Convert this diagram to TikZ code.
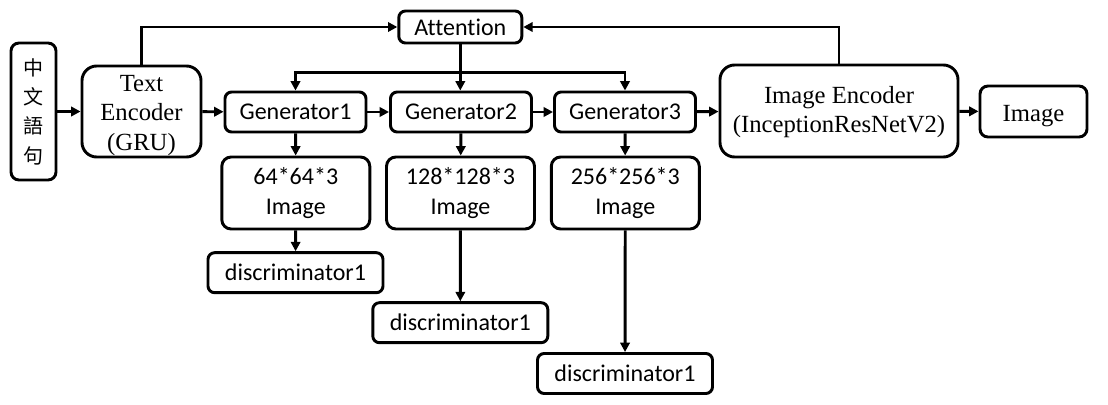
\documentclass[tikz,border=0pt]{standalone}
\usepackage{fontspec}
\setmainfont{Liberation Serif}
\newfontfamily\calibri[Ligatures=NoCommon]{Carlito}
\newfontfamily\cjk{Noto Sans CJK TC}
\usetikzlibrary{arrows.meta,positioning,calc}

% text lowered inside its box, box size kept
\newcommand{\lowered}[2]{\raisebox{-#1}[\height][\depth]{\begin{tabular}{@{}c@{}}#2\end{tabular}}}

\tikzset{
	block/.style={draw,line width=2.2pt,rounded corners=5pt,inner sep=0pt,align=center,
		font=\calibri\fontsize{18}{22.5}\selectfont},
	serifblock/.style={block,rounded corners=11pt,font=\fontsize{18.5}{22}\selectfont},
	link/.style={line width=2.2pt,-{Triangle[length=7pt,width=7pt]}},
}

\begin{document}
\begin{tikzpicture}[x=0.75pt,y=-0.75pt]
	
	\useasboundingbox (0,0) rectangle (1108,404);
	
	%%%%%%%%%%%%%%%%%%%%%%%%%%%%%%%%%%%%%%%%%%%%%%%%%%%%%%
	
	\node [block,rounded corners=6pt,minimum width=33.75pt,minimum height=102.75pt,
		font=\cjk\fontsize{15}{22}\selectfont] (sentence) at (33.5,111.5) {中\\文\\語\\句};
	\node [serifblock,minimum width=89.25pt,minimum height=68.25pt] (text-encoder) at (141.5,111.5) {\lowered{2.5pt}{Text\\Encoder\\(GRU)}};
	
	%%%%%%%%%%%%%%%%%%%%%%%%%%%%%%%%%%%%%%%%%%%%%%%%%%%%%%
	
	\node [block,minimum width=92.25pt,minimum height=24pt] (attention) at (460.3,27) {Attention};
	
	\node [block,minimum width=105.75pt,minimum height=30pt] (generator-1) at (295.5,112) {Generator1};
	\node [block,minimum width=105.75pt,minimum height=30pt] (generator-2) at (461,112) {Generator2};
	\node [block,minimum width=105.75pt,minimum height=30pt] (generator-3) at (625,112) {Generator3};
	
	\node [block,rounded corners=7pt,minimum width=111pt,minimum height=54pt] (image-1) at (295.8,193) {64*64*3\\Image};
	\node [block,rounded corners=7pt,minimum width=111pt,minimum height=54pt] (image-2) at (460.5,193) {128*128*3\\Image};
	\node [block,rounded corners=7pt,minimum width=111pt,minimum height=54pt] (image-3) at (625.3,193) {256*256*3\\Image};
	
	\node [block,minimum width=131.25pt,minimum height=30pt] (discriminator-1) at (295.5,272.7) {discriminator1};
	\node [block,minimum width=131.25pt,minimum height=30pt] (discriminator-2) at (460.3,322.7) {discriminator1};
	\node [block,minimum width=131.25pt,minimum height=30pt] (discriminator-3) at (625,373.5) {discriminator1};
	
	%%%%%%%%%%%%%%%%%%%%%%%%%%%%%%%%%%%%%%%%%%%%%%%%%%%%%%
	
	\node [serifblock,minimum width=178.5pt,minimum height=69pt] (image-encoder) at (839,111) {\lowered{1pt}{Image Encoder\\(InceptionResNetV2)}};
	\node [serifblock,rounded corners=6pt,minimum width=80.25pt,minimum height=38.25pt] (image) at (1033.5,111.5) {\lowered{3.4pt}{Image}};
	
	%%%%%%%%%%%%%%%%%%%%%%%%%%%%%%%%%%%%%%%%%%%%%%%%%%%%%%
	
	\draw [link] (sentence) -- (text-encoder);
	\draw [link] (text-encoder) -- (generator-1);
	\draw [link] (generator-1) -- (generator-2);
	\draw [link] (generator-2) -- (generator-3);
	\draw [link] (generator-3) -- (image-encoder);
	\draw [link] (image-encoder) -- (image);
	
	\draw [link] (text-encoder.north) |- (attention.west);
	\draw [link] (image-encoder.north) |- (attention.east);
	
	\coordinate (split) at ($(attention.south)!0.6!(attention.south |- generator-2.north)$);
	\draw [link] (attention.south) -- (attention.south |- generator-2.north);
	\draw [link] (split) -| (generator-1.north);
	\draw [link] (split) -| (generator-3.north);
	
	\foreach \i in {1,2,3}
	{
		\draw [link] (generator-\i) -- (image-\i);
		\draw [link] (image-\i) -- (discriminator-\i);
	}
	
	%%%%%%%%%%%%%%%%%%%%%%%%%%%%%%%%%%%%%%%%%%%%%%%%%%%%%%
	
\end{tikzpicture}
\end{document}
